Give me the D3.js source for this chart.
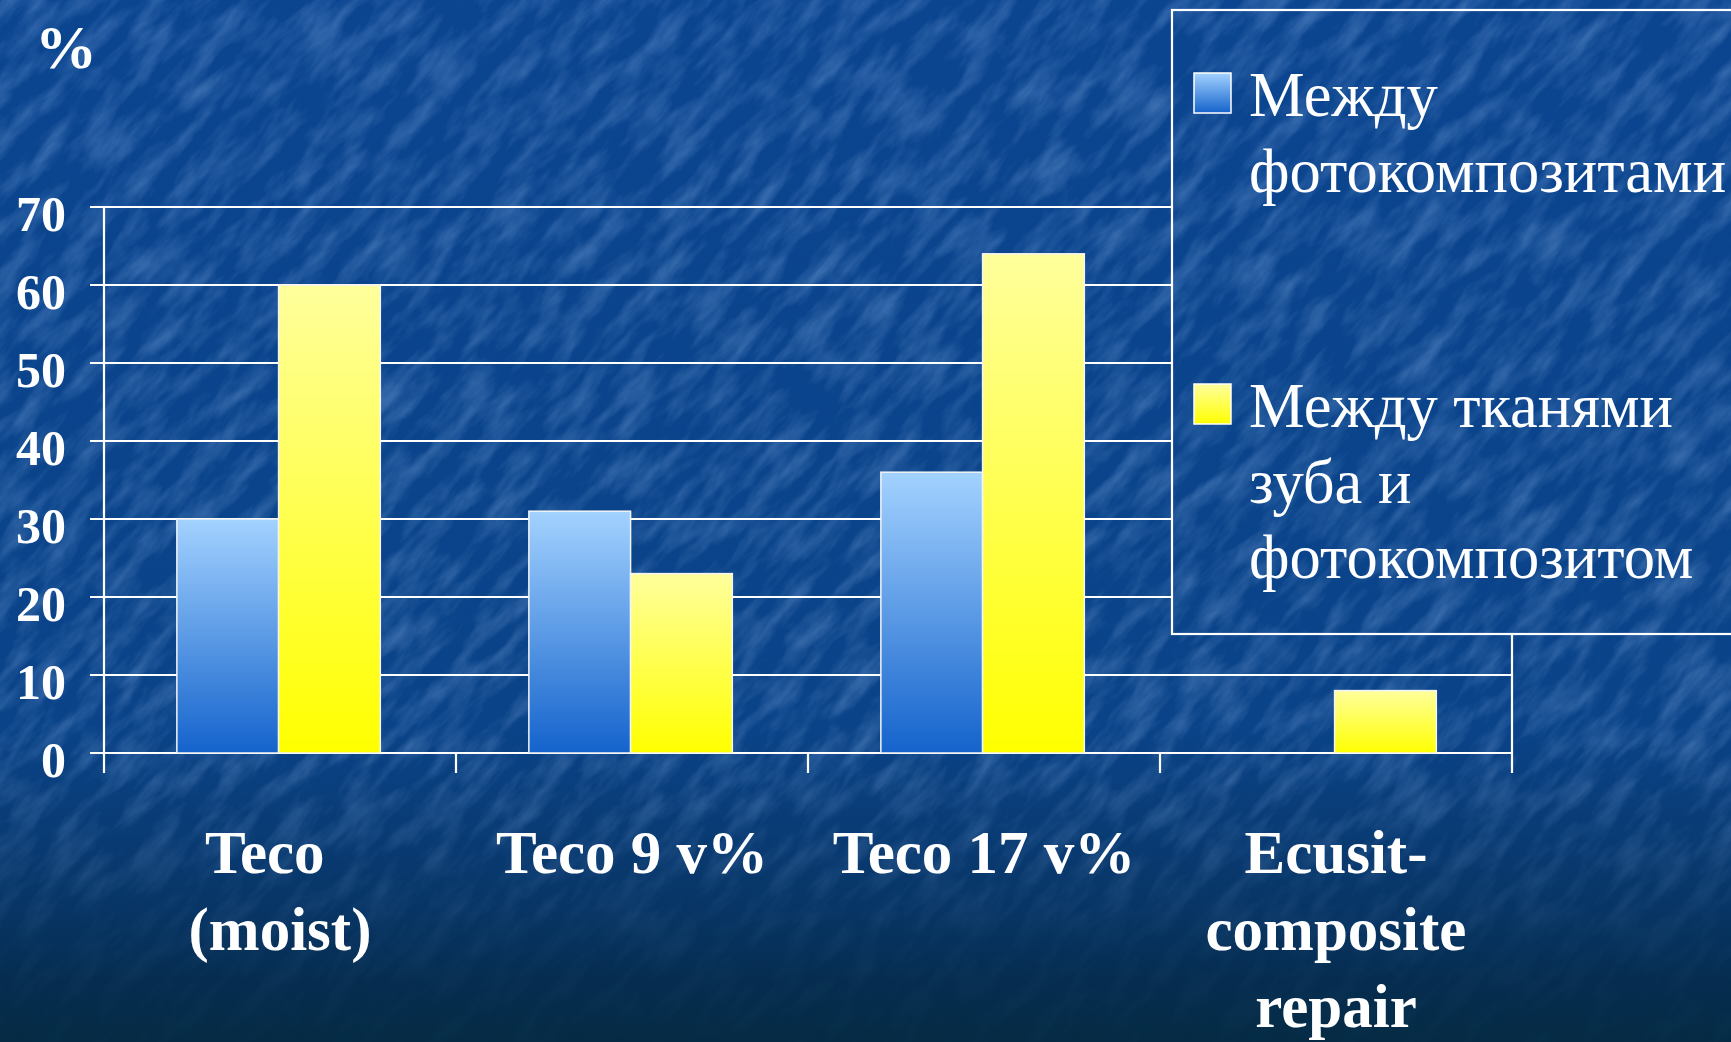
<!DOCTYPE html>
<html><head><meta charset="utf-8">
<script src="https://cdn.jsdelivr.net/npm/d3@7"></script>
<style>html,body{margin:0;padding:0;background:#0b4690;overflow:hidden}svg{display:block}</style>
</head><body>
<svg id="chart" width="1731" height="1042"></svg>
<script>
// ---- data ----
const categories = ["Teco (moist)", "Teco 9 v%", "Teco 17 v%", "Ecusit-composite repair"];
const categoryLines = [["Teco\u00a0\u00a0", "(moist)"], ["Teco 9 v%"], ["Teco 17 v%"], ["Ecusit-", "composite", "repair"]];
const seriesNames = ["Между фотокомпозитами", "Между тканями зуба и фотокомпозитом"];
const legendLines = [["Между", "фотокомпозитами"], ["Между тканями", "зуба и", "фотокомпозитом"]];
const seriesBlue = [30, 31, 36, 0];
const seriesYellow = [60, 23, 64, 8];
const yTicks = [0, 10, 20, 30, 40, 50, 60, 70];
const yUnit = "%";

(function () {
const W = 1731, H = 1042;
const svg = d3.select("#chart");
const defs = svg.append("defs");

// background gradient
const bgGrad = defs.append("linearGradient").attr("id", "bgGrad").attr("x1", 0).attr("y1", 0).attr("x2", 0).attr("y2", 1);
[[0, "#0b4590"], [0.7, "#0a4388"], [0.8, "#093b74"], [0.88, "#073463"], [0.94, "#062d50"], [1, "#052b44"]].forEach(s =>
  bgGrad.append("stop").attr("offset", s[0]).attr("stop-color", s[1]));

// texture fade mask
const mg = defs.append("linearGradient").attr("id", "maskGrad").attr("x1", 0).attr("y1", 0).attr("x2", 0).attr("y2", 1);
mg.append("stop").attr("offset", 0.72).attr("stop-color", "#fff");
mg.append("stop").attr("offset", 0.9).attr("stop-color", "#333");
mg.append("stop").attr("offset", 1).attr("stop-color", "#111");
defs.append("mask").attr("id", "texMask").attr("maskUnits", "userSpaceOnUse")
  .attr("x", 0).attr("y", 0).attr("width", W).attr("height", H)
  .append("rect").attr("width", W).attr("height", H).attr("fill", "url(#maskGrad)");

// texture filter
const tex = defs.append("filter").attr("id", "tex").attr("x", 0).attr("y", 0).attr("width", "100%").attr("height", "100%");
tex.append("feTurbulence").attr("type", "fractalNoise").attr("baseFrequency", "0.018 0.055").attr("numOctaves", 4).attr("seed", 11);
tex.append("feColorMatrix").attr("type", "matrix")
  .attr("values", "0 0 0 0 0.4  0 0 0 0 0.62  0 0 0 0 1  0.55 0 0 0 -0.21");

// bar gradients
function vGrad(id, c0, c1) {
  const g = defs.append("linearGradient").attr("id", id).attr("x1", 0).attr("y1", 0).attr("x2", 0).attr("y2", 1);
  g.append("stop").attr("offset", 0).attr("stop-color", c0);
  g.append("stop").attr("offset", 1).attr("stop-color", c1);
}
vGrad("gBlue", "#a3d2ff", "#1463cc");
vGrad("gYellow", "#ffff9c", "#ffff00");
const fills = ["url(#gBlue)", "url(#gYellow)"];

// background group (reusable)
const bg = defs.append("g").attr("id", "bgGroup");
bg.append("rect").attr("width", W).attr("height", H).attr("fill", "url(#bgGrad)");
bg.append("g").attr("mask", "url(#texMask)")
  .append("g").attr("transform", `rotate(-48 ${W / 2} ${H / 2})`)
  .append("rect").attr("x", -800).attr("y", -1000).attr("width", W + 1600).attr("height", H + 2000)
  .attr("filter", "url(#tex)");
svg.append("use").attr("href", "#bgGroup");

// scales
const pLeft = 104, pRight = 1512, pTop = 207, pBottom = 753;
const x = d3.scaleBand().domain(categories).range([pLeft, pRight]).padding(0);
const bw = x.bandwidth();
const x1 = d3.scaleBand().domain([0, 1]).range([bw * 0.207, bw * 0.785]).padding(0);
const y = d3.scaleLinear().domain([0, 70]).range([pBottom, pTop]);

const fontSerif = "'Liberation Serif','Times New Roman',serif";

// gridlines (with left tick)
svg.append("g").selectAll("line").data(yTicks).join("line")
  .attr("x1", pLeft - 14).attr("x2", pRight)
  .attr("y1", d => y(d)).attr("y2", d => y(d))
  .attr("stroke", "#ffffff").attr("stroke-width", 2.2);

// y axis
const yAxis = d3.axisLeft(y).tickValues(yTicks).tickSize(0).tickPadding(0).tickFormat(d3.format("d"));
const yg = svg.append("g").attr("transform", `translate(${pLeft},0)`).call(yAxis);
yg.select(".domain").remove();
yg.selectAll("text").attr("x", 66 - pLeft).attr("dy", "0.36em").attr("transform", "translate(0,5)")
  .attr("fill", "#fff").attr("font-family", fontSerif).attr("font-weight", "bold").attr("font-size", 50).attr("text-anchor", "end");
svg.append("line").attr("x1", pLeft).attr("x2", pLeft).attr("y1", pTop).attr("y2", pBottom + 20)
  .attr("stroke", "#fff").attr("stroke-width", 2.2);

// x axis ticks
const xEdges = categories.map(c => x(c) + bw);
svg.append("g").selectAll("line").data(xEdges).join("line")
  .attr("x1", d => d).attr("x2", d => d).attr("y1", pBottom).attr("y2", pBottom + 20)
  .attr("stroke", "#fff").attr("stroke-width", 2.2);
// right border of plot area
svg.append("line").attr("x1", pRight).attr("x2", pRight).attr("y1", pTop).attr("y2", pBottom)
  .attr("stroke", "#fff").attr("stroke-width", 2.2);

// bars
const rows = categories.map((c, i) => ({c, vals: [seriesBlue[i], seriesYellow[i]]}));
const groups = svg.append("g").selectAll("g").data(rows).join("g")
  .attr("transform", d => `translate(${x(d.c)},0)`);
groups.selectAll("rect").data(d => d.vals.map((v, k) => ({v, k})).filter(e => e.v > 0)).join("rect")
  .attr("x", d => x1(d.k)).attr("width", x1.bandwidth())
  .attr("y", d => y(d.v)).attr("height", d => y(0) - y(d.v))
  .attr("fill", d => fills[d.k]).attr("stroke", "#f4f4f4").attr("stroke-width", 1.5);

// x labels
const xl = svg.append("g").selectAll("text").data(categories).join("text")
  .attr("x", d => x(d) + bw / 2).attr("y", 873)
  .attr("text-anchor", "middle").attr("fill", "#fff")
  .attr("font-family", fontSerif).attr("font-weight", "bold").attr("font-size", 61);
xl.selectAll("tspan").data((d, i) => categoryLines[i]).join("tspan")
  .attr("x", function () { return d3.select(this.parentNode).attr("x"); })
  .attr("dy", (d, i) => i === 0 ? 0 : 77).text(d => d);

// unit label
svg.append("text").attr("x", 35).attr("y", 68).text(yUnit).attr("fill", "#fff")
  .attr("font-family", fontSerif).attr("font-weight", "bold").attr("font-size", 62);

// legend
const lg = {x: 1172, y: 10, w: 620, h: 624};
defs.append("clipPath").attr("id", "legClip").append("rect")
  .attr("x", lg.x).attr("y", lg.y).attr("width", lg.w).attr("height", lg.h);
svg.append("use").attr("href", "#bgGroup").attr("clip-path", "url(#legClip)");
svg.append("rect").attr("x", lg.x).attr("y", lg.y).attr("width", lg.w).attr("height", lg.h)
  .attr("fill", "none").attr("stroke", "#fff").attr("stroke-width", 2.2);
const legItems = [{sw: 73, base: 116}, {sw: 384, base: 427}];
const li = svg.append("g").selectAll("g").data(seriesNames).join("g");
li.append("rect").attr("x", 1194).attr("y", (d, i) => legItems[i].sw).attr("width", 37).attr("height", 40)
  .attr("fill", (d, i) => fills[i]).attr("stroke", "#fff").attr("stroke-width", 1.5);
const lt = li.append("text").attr("x", 1249).attr("y", (d, i) => legItems[i].base)
  .attr("fill", "#fff").attr("font-family", fontSerif).attr("font-size", 62.5);
lt.selectAll("tspan").data((d, i) => legendLines[i]).join("tspan")
  .attr("x", 1249).attr("dy", (d, i) => i === 0 ? 0 : 75.5).text(d => d);
})();
</script>
</body></html>
